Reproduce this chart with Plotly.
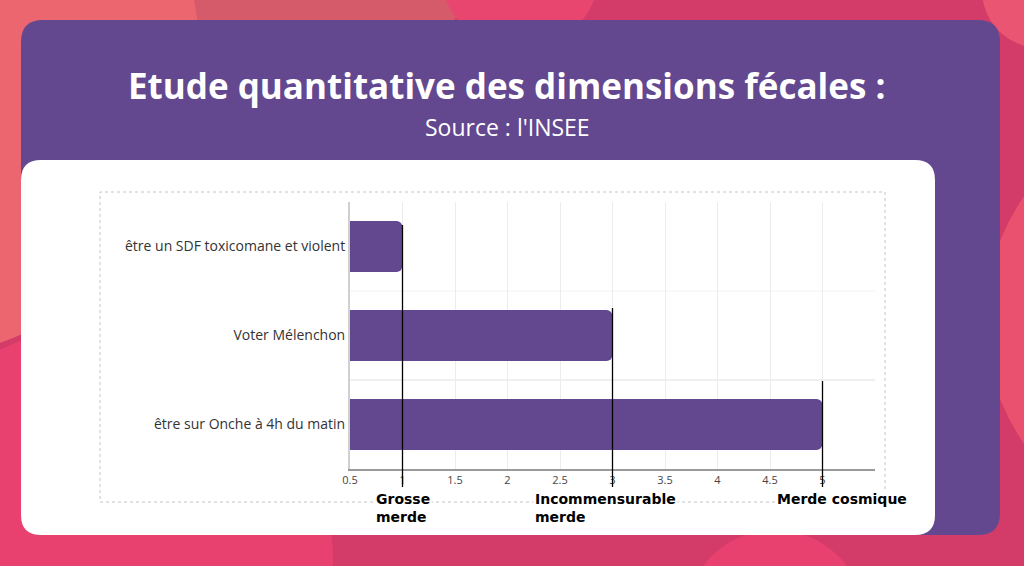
import plotly.graph_objects as go

# chart data
categories = ["être sur Onche à 4h du matin", "Voter Mélenchon", "être un SDF toxicomane et violent"]
values = [5, 3, 1]
x_ticks = [0.5, 1, 1.5, 2, 2.5, 3, 3.5, 4, 4.5, 5, 5.5]
x_tick_labels = ["0.5", "1", "1.5", "2", "2.5", "3", "3.5", "4", "4.5", "5", ""]
levels = [1, 3, 5]
level_labels = ["Grosse<br>merde", "Incommensurable<br>merde", "Merde cosmique"]
title = "Etude quantitative des dimensions fécales :"
subtitle = "Source : l'INSEE"

PURPLE = "#63488f"
W, H = 1024, 566
L, R, T, B = 350, 875, 202, 469  # plot area, in pixels


def px(x):
    return (x - L) / (R - L)


def py(y):
    return (B - y) / (B - T)


def rounded_rect(x0, y0, x1, y1, r, color):
    pts = [("M", x0 + r, y0), ("L", x1 - r, y0), ("Q", x1, y0, x1, y0 + r),
           ("L", x1, y1 - r), ("Q", x1, y1, x1 - r, y1), ("L", x0 + r, y1),
           ("Q", x0, y1, x0, y1 - r), ("L", x0, y0 + r), ("Q", x0, y0, x0 + r, y0)]
    path = ""
    for p in pts:
        c = p[1:]
        path += p[0] + " " + " ".join(
            f"{px(c[i]):.5f},{py(c[i + 1]):.5f}" for i in range(0, len(c), 2)) + " "
    path += "Z"
    return dict(type="path", xref="paper", yref="paper", path=path,
                fillcolor=color, line=dict(width=0), layer="below")


def blob(cx, cy, r, color):
    return dict(type="circle", xref="paper", yref="paper",
                x0=px(cx - r), x1=px(cx + r), y0=py(cy + r), y1=py(cy - r),
                fillcolor=color, line=dict(width=0), layer="below")


shapes = [
    blob(320, -100, 180, "#d65b6a"),
    blob(-100, 60, 300, "#ec6670"),
    blob(520, -30, 80, "#e8466f"),
    blob(1040, -10, 58, "#ea5571"),
    blob(1200, 320, 215, "#e9516e"),
    blob(100, 560, 233, "#e8416f"),
    blob(775, 620, 90, "#e8406f"),
    rounded_rect(21, 20, 1000, 535, 22, PURPLE),
    rounded_rect(21, 160, 935, 535, 20, "white"),
    dict(type="rect", xref="paper", yref="paper", x0=px(100), x1=px(885),
         y0=py(502), y1=py(192), line=dict(color="#c4c4c4", width=1, dash="dot"),
         layer="below"),
    dict(type="line", xref="paper", yref="y", x0=0, x1=1, y0=0.5, y1=0.5,
         line=dict(color="#e0e0e0", width=1), layer="below"),
    dict(type="line", xref="paper", yref="y", x0=0, x1=1, y0=1.5, y1=1.5,
         line=dict(color="#f3f3f3", width=1), layer="below"),
]

# black marker lines at each level
line_tops = [225, 308, 381]
for lv, top in zip(levels, line_tops):
    shapes.append(dict(type="line", xref="x", yref="paper", x0=lv, x1=lv,
                       y0=py(487), y1=py(top), line=dict(color="black", width=1.3),
                       layer="above"))

annotations = [
    dict(text=f"<b>{title}</b>", xref="paper", yref="paper", x=px(506), y=py(85),
         xanchor="center", yanchor="middle",
         showarrow=False, font=dict(family="Open Sans", size=35, color="white")),
    dict(text=subtitle, xref="paper", yref="paper", x=px(507), y=py(127),
         xanchor="center", yanchor="middle",
         showarrow=False, font=dict(family="Open Sans", size=23, color="white")),
]
label_shift = [0, -7, 19]
for lv, lab, sh in zip(levels, level_labels, label_shift):
    annotations.append(dict(text=f"<b>{lab}</b>", xref="x", yref="paper", x=lv, y=py(489),
                            xanchor="center", yanchor="top", align="left", xshift=sh,
                            showarrow=False, bgcolor="white",
                            font=dict(family="DejaVu Sans", size=14, color="black")))

fig = go.Figure(go.Bar(
    x=values, y=categories, orientation="h", width=0.575,
    marker=dict(color=PURPLE, cornerradius=6, line=dict(width=0)),
    hoverinfo="x+y",
))

fig.update_layout(
    width=W, height=H,
    margin=dict(l=L, r=W - R, t=T, b=H - B),
    paper_bgcolor="#d33c68",
    plot_bgcolor="rgba(0,0,0,0)",
    showlegend=False,
    shapes=shapes,
    annotations=annotations,
    font=dict(family="Open Sans", color="#333"),
    xaxis=dict(range=[0.5, 5.5], tickvals=x_ticks, ticktext=x_tick_labels,
               showgrid=True, gridcolor="#ececec", zeroline=False,
               showline=True, linecolor="#9a9a9a", linewidth=1.5,
               tickfont=dict(size=11, color="#444")),
    yaxis=dict(categoryorder="array", categoryarray=categories,
               showgrid=False, zeroline=False,
               showline=True, linecolor="#d0d0d0", linewidth=2,
               tickfont=dict(size=14, color="#333")),
)

# drop the page margin so the figure fills the window
fig.write_html("out.html", config={"displayModeBar": False},
               post_script="document.body.style.margin='0';")
